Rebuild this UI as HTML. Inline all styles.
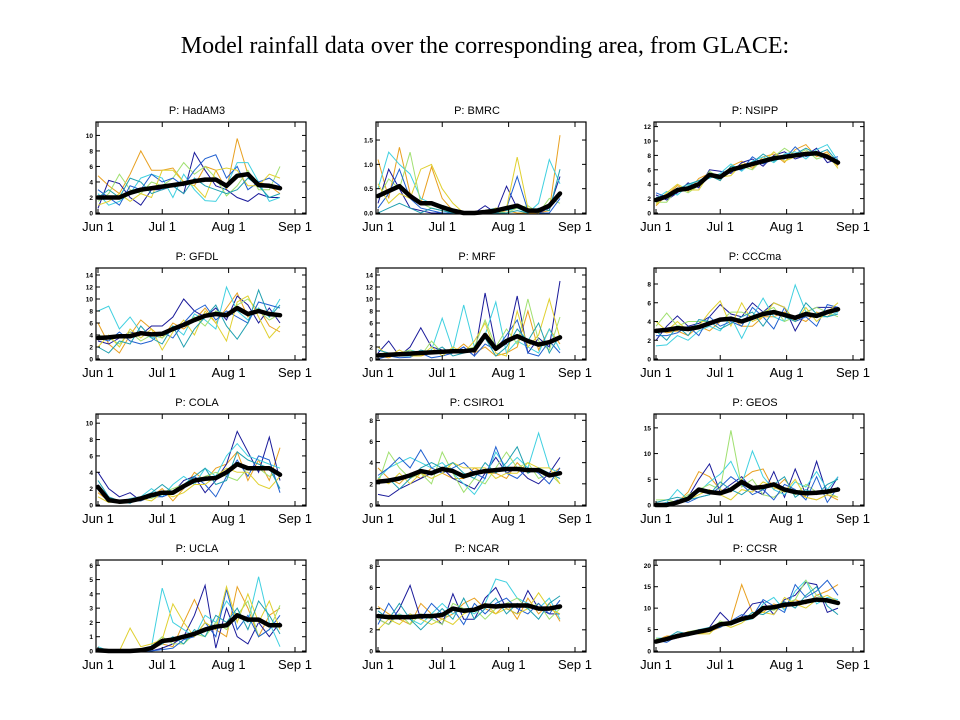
<!DOCTYPE html>
<html><head><meta charset="utf-8"><style>
body{margin:0;background:#fff;width:960px;height:720px;overflow:hidden}
svg{display:block}
</style></head><body>
<svg id="fig" width="960" height="720" xmlns="http://www.w3.org/2000/svg">
<rect width="960" height="720" fill="#fff"/>
<text x="485" y="53" text-anchor="middle" font-family="Liberation Serif, serif" font-size="24">Model rainfall data over the corresponding area, from GLACE:</text>
</svg>
<script>
const days = [0,5,10,15,20,25,30,35,40,45,50,55,60,65,70,75,80,85];
const xTickDays = [0,30,61,92];
const xTickLabels = ["Jun 1","Jul 1","Aug 1","Sep 1"];
const memberColors = ['#e8a020','#1a1a9a','#40d0e0','#a0e070','#2060d0','#e0d030','#20a0b0'];
const panelNames = ["HadAM3","BMRC","NSIPP","GFDL","MRF","CCCma","COLA","CSIRO1","GEOS","UCLA","NCAR","CCSR"];
const yMaxes = [11.6,1.85,12.5,15,15,9.6,11,8.5,17.5,6.3,8.5,21];
const yTickSets = [[0,2,4,6,8,10],[0,0.5,1,1.5],[0,2,4,6,8,10,12],[0,2,4,6,8,10,12,14],[0,2,4,6,8,10,12,14],[0,2,4,6,8],[0,2,4,6,8,10],[0,2,4,6,8],[0,5,10,15],[0,1,2,3,4,5,6],[0,2,4,6,8],[0,5,10,15,20]];
const means = [
[2.0,2.0,2.0,2.6,3.0,3.2,3.4,3.6,3.8,4.1,4.3,4.3,3.5,4.8,5.0,3.6,3.5,3.2],
[0.35,0.45,0.55,0.35,0.2,0.2,0.12,0.05,0.0,0.0,0.02,0.05,0.1,0.15,0.05,0.05,0.15,0.4],
[1.8,2.3,3.2,3.4,4.0,5.3,5.0,6.0,6.4,6.8,7.2,7.6,7.8,8.0,8.2,8.3,7.8,7.0],
[3.5,3.6,3.8,3.8,4.3,4.1,4.2,5.0,5.7,6.5,7.2,7.5,7.3,8.5,7.5,8.0,7.5,7.3],
[0.6,0.7,0.8,0.9,1.0,1.1,1.2,1.3,1.3,1.5,4.0,1.7,3.0,3.8,3.0,2.4,2.8,3.6],
[3.0,3.1,3.3,3.2,3.4,3.8,4.2,4.3,4.0,4.4,4.8,5.0,4.7,4.4,4.8,4.6,5.0,5.3],
[2.2,0.6,0.4,0.5,0.8,1.2,1.5,1.5,2.3,3.0,3.2,3.3,4.0,5.0,4.5,4.5,4.5,3.7],
[2.2,2.3,2.5,2.8,3.2,3.0,3.4,3.2,2.7,3.0,3.2,3.3,3.4,3.4,3.3,3.3,2.8,3.0],
[0.0,0.0,0.5,1.2,3.0,2.5,2.3,3.0,4.5,3.3,3.5,4.0,3.0,2.5,2.3,2.4,2.6,3.0],
[0.05,0.0,0.0,0.0,0.05,0.2,0.7,0.8,1.0,1.2,1.5,1.7,1.8,2.5,2.2,2.2,1.8,1.8],
[3.3,3.2,3.2,3.2,3.3,3.3,3.4,4.0,3.8,3.9,4.3,4.2,4.3,4.3,4.3,4.0,4.0,4.2],
[2.2,2.8,3.5,4.0,4.5,5.0,6.2,6.5,7.5,8.0,10.0,10.2,10.8,11.0,11.5,12.0,11.8,11.2]
];
const members = [
[[4.8,3.5,2.5,5.0,8.0,5.5,5.5,5.8,4.0,3.5,6.0,5.5,3.0,9.6,5.0,4.0,3.5,2.5],[0.6,4.2,3.8,2.0,1.0,3.0,3.0,3.5,2.5,7.8,5.5,3.5,3.0,2.0,1.5,2.5,2.0,2.0],[2.5,1.0,1.5,2.5,4.5,5.0,4.5,2.0,5.0,3.0,1.6,1.5,3.5,6.5,6.5,4.0,1.5,2.0],[1.5,2.5,5.0,3.0,2.5,4.0,3.5,4.5,6.5,5.0,6.0,4.5,2.2,3.5,5.5,3.0,3.0,6.0],[3.0,2.0,1.0,3.5,3.0,5.0,4.0,4.5,3.5,5.5,7.0,7.5,4.5,6.0,3.0,4.0,4.5,3.5],[1.0,1.5,2.5,1.5,2.5,2.0,5.5,5.5,4.0,3.5,2.0,5.5,5.8,5.5,3.5,3.5,5.0,4.5],[2.0,3.0,2.0,4.5,4.0,2.5,3.0,3.5,2.5,4.5,3.5,3.0,2.5,3.0,4.5,3.5,2.0,2.5]],
[[1.1,0.3,1.35,0.4,0.2,0.95,0.3,0.05,0.0,0.0,0.0,0.0,0.05,0.0,0.0,0.0,0.05,1.6],[0.2,0.9,0.5,0.1,0.05,0.0,0.0,0.0,0.0,0.0,0.15,0.0,0.55,0.1,0.05,0.0,0.1,0.75],[0.5,1.25,1.0,0.8,0.3,0.2,0.1,0.0,0.0,0.0,0.05,0.1,0.05,0.1,0.0,0.2,1.1,0.6],[0.3,0.7,0.5,1.25,0.2,0.1,0.05,0.0,0.0,0.0,0.0,0.05,0.0,0.1,0.15,0.0,0.3,0.2],[0.1,0.4,0.9,0.3,0.1,0.05,0.0,0.0,0.0,0.0,0.0,0.0,0.1,0.75,0.05,0.0,0.0,0.3],[0.6,0.2,0.4,0.3,0.9,1.0,0.5,0.2,0.0,0.0,0.0,0.1,0.1,1.15,0.1,0.0,0.2,0.4],[0.0,0.1,0.2,0.1,0.0,0.1,0.05,0.0,0.0,0.0,0.0,0.0,0.0,0.05,0.0,0.1,0.05,0.9]],
[[1.0,2.5,3.8,3.0,4.8,5.5,4.5,6.5,7.2,6.2,7.8,8.2,7.0,8.8,9.5,7.8,8.5,6.5],[2.5,1.8,2.8,4.2,3.5,6.0,5.8,5.5,7.0,7.5,6.5,8.0,8.5,7.5,8.0,9.0,7.0,7.5],[2.0,3.0,2.5,3.8,4.5,4.8,5.5,6.8,5.8,7.2,7.8,7.0,8.2,8.5,7.5,8.8,9.5,7.2],[1.5,1.5,3.5,2.8,3.8,5.8,4.8,5.8,6.5,6.0,7.5,7.8,9.0,8.0,8.8,7.5,8.0,6.8],[2.8,2.2,3.0,3.5,4.2,5.0,5.2,6.2,6.0,7.8,6.8,7.5,7.5,9.2,7.8,8.5,7.5,7.8],[1.2,2.8,4.0,3.2,3.2,5.5,5.0,5.2,6.8,6.5,7.0,8.5,7.2,7.8,8.5,8.0,8.2,6.2],[2.2,2.0,3.3,4.0,4.5,5.2,4.5,6.5,6.2,7.0,8.2,7.2,8.0,8.2,9.0,8.2,8.8,7.0]],
[[6.0,2.5,1.0,4.0,6.5,5.0,3.5,6.0,5.0,6.5,8.5,6.0,8.5,11.0,7.0,8.5,5.5,4.5],[3.0,2.5,3.5,4.5,4.0,5.5,5.5,7.0,10.0,8.0,7.0,8.5,6.5,10.5,9.0,6.0,8.5,6.0],[8.0,8.8,5.0,7.0,4.5,3.5,4.0,5.5,4.0,7.5,6.5,5.0,12.0,8.0,6.5,8.5,7.0,10.0],[4.0,3.5,2.5,4.5,3.0,4.0,3.5,5.0,5.5,7.0,5.5,8.0,7.5,9.0,10.0,8.0,6.5,7.5],[3.5,3.0,4.5,3.0,2.5,3.0,4.5,3.5,6.0,8.0,9.0,6.5,8.0,7.0,6.0,9.5,9.0,8.5],[2.0,4.0,2.0,5.0,3.5,5.0,1.5,4.5,6.5,4.0,8.0,6.0,3.0,9.5,10.5,7.0,3.5,5.5],[2.0,1.0,3.0,2.5,5.5,3.5,2.5,5.5,2.0,5.0,7.0,9.0,5.5,3.3,6.0,11.5,7.0,9.0]],
[[0.5,0.2,1.0,0.5,0.5,1.0,1.0,1.0,2.5,1.0,2.0,0.5,1.0,2.0,8.0,1.5,5.0,2.5],[1.0,3.0,0.5,2.0,5.2,2.0,1.5,1.0,2.0,0.5,11.0,2.0,2.5,10.5,1.0,3.5,2.0,13.0],[0.5,1.0,0.5,1.5,1.0,1.5,6.8,1.5,9.0,2.0,4.0,9.5,1.0,3.0,2.0,1.0,5.0,1.5],[0.5,0.5,1.0,1.5,0.5,3.0,1.0,1.5,1.5,2.0,6.5,2.0,5.0,2.5,10.0,3.0,1.5,7.0],[0.0,0.5,0.2,0.3,1.0,0.2,0.5,1.0,2.0,0.5,2.5,1.5,4.0,6.5,1.0,0.5,3.0,1.0],[2.0,0.5,1.5,0.5,0.5,2.0,0.5,2.0,1.0,3.0,6.0,1.0,0.5,8.0,2.0,4.0,10.0,3.5],[1.5,1.0,0.5,0.5,1.5,1.0,2.0,0.5,1.0,1.5,3.5,0.5,2.0,5.0,3.0,6.0,1.0,4.0]],
[[3.2,2.8,3.0,2.5,3.5,3.0,4.0,4.5,3.5,3.5,4.5,4.5,5.0,4.5,4.0,5.0,4.5,5.5],[2.0,3.5,4.6,3.5,3.8,4.5,5.8,4.8,4.5,6.0,5.0,6.0,5.5,3.0,5.0,5.5,5.5,5.5],[1.4,1.5,2.5,2.0,3.0,3.5,3.0,4.5,2.2,4.5,6.5,4.5,4.0,7.9,5.0,4.5,4.5,5.0],[3.5,4.9,3.5,4.0,4.0,4.0,4.0,5.0,5.0,4.5,5.0,5.5,4.0,4.5,5.0,5.5,5.0,4.5],[2.5,2.5,2.8,3.5,2.5,4.5,3.5,4.0,3.5,5.5,4.5,3.2,5.5,4.0,4.5,3.5,5.8,5.5],[4.0,3.0,4.0,3.0,3.5,5.0,6.2,3.5,6.0,4.0,4.5,6.0,5.5,4.0,5.5,4.0,5.0,6.0],[3.0,2.0,3.5,2.5,4.2,4.0,3.2,3.8,4.5,5.0,3.5,5.2,4.5,4.0,6.0,4.8,4.5,4.8]],
[[1.5,0.5,0.2,0.5,0.5,1.0,2.0,0.5,2.0,4.0,3.0,4.5,5.0,6.5,3.0,5.5,3.0,7.0],[4.0,2.0,1.0,1.5,0.5,1.5,1.0,1.5,3.0,3.5,1.5,3.0,5.0,9.0,6.5,4.0,8.3,3.0],[2.0,0.5,0.3,0.8,1.0,2.0,1.0,2.5,3.5,2.5,4.5,3.5,6.0,7.5,6.0,5.5,5.0,4.5],[2.0,0.5,0.2,0.3,1.0,0.8,1.5,2.0,2.5,3.0,3.5,4.0,3.5,3.0,4.5,4.5,3.5,4.0],[2.5,0.8,0.3,0.5,0.5,1.0,1.0,1.5,2.0,3.5,2.5,1.0,3.5,5.5,3.5,6.0,5.5,1.5],[1.0,0.3,0.5,0.5,0.8,0.5,1.5,1.0,1.5,2.5,2.5,3.5,4.5,4.0,4.0,2.5,2.0,3.5],[3.0,1.0,0.5,0.2,1.0,1.5,2.5,1.5,2.5,3.5,4.5,2.5,3.0,6.5,5.5,5.0,4.5,2.0]],
[[3.5,2.5,2.0,3.0,2.5,3.5,3.0,2.5,2.5,3.5,3.0,3.0,2.5,4.0,3.0,3.5,2.8,3.5],[1.0,0.8,1.5,2.0,2.5,3.0,3.5,2.5,2.0,1.5,3.0,4.5,3.0,3.5,2.5,2.0,3.0,4.5],[2.5,3.5,4.0,4.5,4.0,3.5,4.0,3.0,2.0,1.0,2.5,5.0,3.5,4.5,3.5,6.8,3.5,3.0],[2.0,5.0,3.5,2.5,3.0,2.0,5.0,3.0,1.2,2.5,2.0,3.5,5.0,3.5,4.0,2.5,3.0,2.0],[2.8,3.5,4.5,3.5,5.2,3.5,3.0,3.5,4.0,3.0,2.5,5.5,3.0,2.5,3.5,3.0,2.0,3.5],[2.5,2.0,3.0,2.0,3.0,2.5,3.0,4.0,3.5,3.5,3.5,2.5,3.0,3.0,4.0,3.5,3.5,2.0],[2.0,2.5,1.5,2.5,3.5,4.0,3.5,4.0,3.0,2.5,4.0,3.0,4.0,5.5,3.0,3.5,3.0,2.5]],
[[0.0,0.0,0.5,2.5,6.5,5.5,3.0,2.5,5.0,6.5,7.0,3.0,5.0,2.5,1.5,1.0,2.0,1.0],[0.0,0.5,0.5,1.5,5.0,8.0,2.5,4.0,5.5,3.0,2.0,6.5,1.5,7.0,2.0,8.5,2.0,5.5],[0.0,0.5,3.0,1.0,2.5,4.5,6.0,8.5,4.0,10.5,5.5,3.0,2.0,4.5,3.5,6.5,3.0,5.5],[1.0,1.0,0.5,2.0,3.0,4.0,3.0,14.5,3.5,5.0,2.0,1.5,3.0,2.0,4.0,2.5,2.5,1.5],[0.0,0.0,1.0,0.5,1.5,2.0,3.5,5.5,4.0,2.0,3.0,1.0,4.0,3.0,1.0,5.5,0.5,3.5],[0.0,0.3,0.5,1.0,2.0,3.0,2.0,1.0,3.0,2.5,4.5,3.5,2.5,5.0,1.5,1.0,2.0,1.5],[0.5,1.0,1.5,1.0,1.5,2.0,4.5,3.0,2.0,3.5,3.0,4.0,5.5,1.5,3.0,2.0,4.0,5.0]],
[[0.0,0.0,0.0,0.0,0.0,0.1,0.5,0.3,2.0,3.6,2.0,1.5,1.0,4.5,3.0,1.0,2.5,3.0],[0.0,0.0,0.0,0.0,0.0,0.0,0.2,0.5,1.0,2.5,4.6,0.2,3.0,1.0,0.5,2.0,1.0,2.0],[0.3,0.0,0.0,0.0,0.1,0.3,4.4,2.0,1.5,1.0,2.5,2.0,3.5,2.5,2.0,5.2,2.0,0.3],[0.0,0.0,0.0,0.0,0.0,0.3,1.0,0.5,0.5,1.2,1.0,2.0,1.5,2.5,3.5,1.0,1.5,3.2],[0.0,0.0,0.0,0.0,0.0,0.0,0.1,0.2,0.8,1.0,2.0,1.0,4.3,1.5,2.5,1.0,1.5,2.5],[0.0,0.0,0.0,1.6,0.3,0.5,0.8,3.3,2.0,1.0,2.0,1.5,4.5,2.0,4.0,2.0,3.5,1.5],[0.0,0.0,0.0,0.0,0.0,0.2,0.5,1.0,0.5,1.5,1.0,2.5,2.0,3.0,1.5,3.5,2.5,1.2]],
[[4.2,3.5,3.0,2.5,4.5,3.5,3.0,3.5,4.5,5.0,4.0,3.5,4.5,3.0,5.0,3.5,4.5,2.8],[3.0,2.5,4.0,6.2,3.0,3.5,2.5,5.4,3.0,3.0,5.0,6.0,4.0,3.5,5.7,4.0,3.5,3.5],[3.5,3.0,3.5,3.0,2.5,3.5,4.5,3.5,4.0,3.5,4.5,6.8,6.5,5.0,4.5,4.0,5.0,3.0],[3.0,2.5,3.5,2.5,3.5,3.0,2.5,4.5,4.0,4.0,3.0,4.0,4.5,5.0,4.0,4.5,3.0,4.0],[2.5,4.5,3.0,3.5,3.0,4.5,3.5,4.0,2.5,4.5,3.5,4.5,5.0,4.0,3.5,4.5,3.5,4.8],[2.0,3.0,2.5,3.5,3.0,2.5,3.0,2.5,3.5,4.0,4.5,3.5,4.0,3.5,4.0,5.5,4.0,3.5],[3.8,3.0,4.5,3.0,2.0,3.0,4.0,3.0,5.0,3.0,4.0,5.0,3.5,4.5,4.0,3.0,4.5,5.2]],
[[2.5,3.5,3.5,4.5,4.0,4.5,5.5,7.0,15.5,9.0,9.0,11.0,10.0,12.0,11.0,13.0,14.0,15.5],[2.0,2.5,3.0,3.8,4.5,5.5,9.0,6.5,8.0,11.0,11.5,8.5,12.0,13.0,16.0,15.5,9.0,10.0],[3.0,3.0,4.0,3.5,5.0,5.5,6.0,6.5,7.0,7.5,11.0,12.5,9.5,14.0,16.5,11.0,12.5,12.0],[3.0,2.5,3.5,4.5,5.0,4.5,7.0,6.0,7.5,8.5,10.0,9.5,11.0,12.0,16.5,13.0,12.0,11.0],[2.5,2.0,3.5,4.0,5.0,5.0,5.5,7.0,8.5,8.0,12.0,10.5,9.0,15.5,12.5,14.0,16.5,13.0],[2.0,3.0,3.0,4.5,4.0,4.0,6.5,5.5,6.5,8.5,9.0,8.5,12.5,11.0,10.0,12.0,13.0,11.5],[2.0,3.0,4.5,4.0,4.5,5.5,6.0,6.5,7.0,9.0,8.5,10.0,11.5,10.0,13.0,15.0,10.5,8.5]]
];

const NS='http://www.w3.org/2000/svg';
const svg=document.getElementById('fig');
const colLeft=[96,376,654], rowTop=[122,268,414,560], W=210, H=92;
function mk(tag,attrs,parent){const e=document.createElementNS(NS,tag);for(const k in attrs)e.setAttribute(k,attrs[k]);parent.appendChild(e);return e;}

panelNames.forEach((name,p)=>{
  const L=colLeft[p%3], T=rowTop[Math.floor(p/3)], B=T+H;
  const ymax=yMaxes[p];
  const xs=d=>L+2+d*(197/92);
  const ys=v=>B-1-v*((H-2)/ymax);
  const g=mk('g',{},svg);
  
  
  const t=mk('text',{x:L+W/2-4,y:T-8,'text-anchor':'middle','font-family':'Liberation Sans, sans-serif','font-size':'11'},g);
  t.textContent='P: '+name;
  
  
  members[p].forEach((m,i)=>{
    const pl=mk('polyline',{points:m.map((v,j)=>xs(days[j]).toFixed(1)+','+ys(v).toFixed(1)).join(' '),fill:'none',stroke:memberColors[i],'stroke-width':'1'},g);
    
    
  });
  const ml=mk('polyline',{points:means[p].map((v,j)=>xs(days[j]).toFixed(1)+','+ys(v).toFixed(1)).join(' '),fill:'none',stroke:'#000','stroke-width':'4.5','stroke-linejoin':'round','stroke-linecap':'round'},g);
  
  
  const fr=mk('rect',{x:L,y:T,width:W,height:H,fill:'none',stroke:'#000','stroke-width':'1.2'},g);
  
  
  xTickDays.forEach((d,i)=>{
    const x=xs(d);
    mk('line',{x1:x,y1:B,x2:x,y2:B-5,stroke:'#000','stroke-width':'1'},g);
    mk('line',{x1:x,y1:T,x2:x,y2:T+5,stroke:'#000','stroke-width':'1'},g);
    const tl=mk('text',{x:x,y:B+17,'text-anchor':'middle','font-family':'Liberation Sans, sans-serif','font-size':'13'},g);
    tl.textContent=xTickLabels[i];
    
    
  });
  yTickSets[p].forEach(v=>{
    const y=ys(v);
    mk('line',{x1:L,y1:y,x2:L+4,y2:y,stroke:'#000','stroke-width':'1'},g);
    mk('line',{x1:L+W,y1:y,x2:L+W-4,y2:y,stroke:'#000','stroke-width':'1'},g);
    const yl=mk('text',{x:L-3,y:y+2.5,'text-anchor':'end','font-family':'Liberation Sans, sans-serif','font-size':'6.5','font-weight':'bold'},g);
    yl.textContent = ymax<3 ? v.toFixed(1) : String(v);
    
    
  });
});
</script>
</body></html>
